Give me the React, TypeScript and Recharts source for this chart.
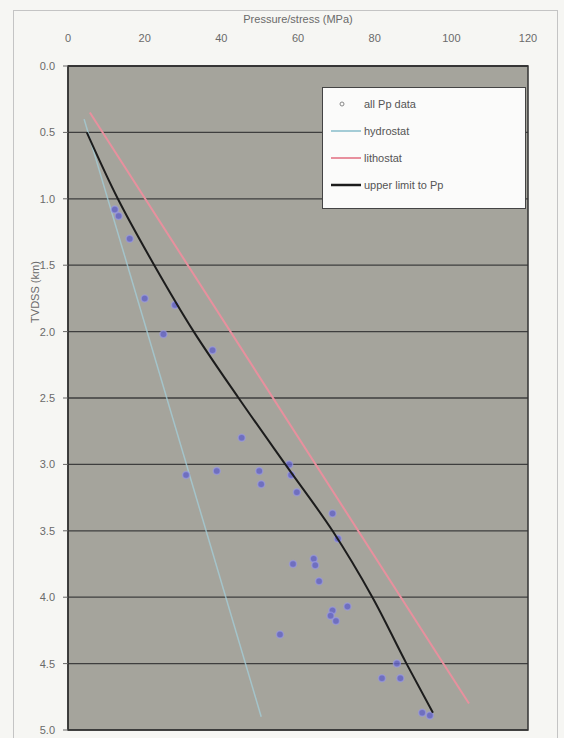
import React from 'react';
import { ComposedChart, Scatter, XAxis, YAxis, CartesianGrid, ReferenceArea } from 'recharts';

const pressureTicks = [0, 20, 40, 60, 80, 100, 120];
const depthTicks = [0, 0.5, 1, 1.5, 2, 2.5, 3, 3.5, 4, 4.5, 5];

// all Pp data: pressure (MPa) and depth (km)
const ppPressure = [12.2, 13.2, 16.1, 20.0, 27.9, 24.9, 37.7, 45.3, 30.8, 38.8, 49.9, 50.4, 57.7, 58.2, 59.7, 69.0, 70.4, 58.7, 64.1, 64.5, 65.5, 69.0, 72.9, 69.9, 68.5, 55.3, 85.8, 81.9, 86.7, 92.4, 94.4];
const ppDepth = [1.08, 1.13, 1.30, 1.75, 1.80, 2.02, 2.14, 2.80, 3.08, 3.05, 3.05, 3.15, 3.00, 3.08, 3.21, 3.37, 3.56, 3.75, 3.71, 3.76, 3.88, 4.10, 4.07, 4.18, 4.14, 4.28, 4.50, 4.61, 4.61, 4.87, 4.89];

const hydroPressure = [4.2, 50.4];
const hydroDepth = [0.4, 4.9];

const lithoPressure = [5.7, 104.6];
const lithoDepth = [0.35, 4.8];

const upperPressure = [4.9, 13.0, 22.5, 32.8, 44.5, 56.7, 69.0, 79.4, 88.3, 95.2];
const upperDepth = [0.5, 1.0, 1.5, 2.0, 2.5, 3.0, 3.5, 4.0, 4.5, 4.87];

const seriesNames = ['all Pp data', 'hydrostat', 'lithostat', 'upper limit to Pp'];
const colors = { pp: '#6262c8', hydro: '#a4ccd6', litho: '#e8909e', upper: '#1c1c1c' };

const zip = (p: number[], z: number[]) => p.map((v, i) => ({ p: v, z: z[i] }));
const ppData = zip(ppPressure, ppDepth);
const hydroData = zip(hydroPressure, hydroDepth);
const lithoData = zip(lithoPressure, lithoDepth);
const upperData = zip(upperPressure, upperDepth);

const font = '"Liberation Sans", Arial, sans-serif';
const noShape = () => <g />;

const PointShape = (props: any) => (
  <circle cx={props.cx} cy={props.cy} r={3.5} fill={colors.pp} fillOpacity={0.8} stroke="#9c9ce2" strokeWidth={1.5} strokeOpacity={0.6} />
);

export default function App() {
  return (
    <div style={{ position: 'absolute', left: 0, top: 0, width: 564, height: 738, background: '#f6f6f3', overflow: 'hidden', fontFamily: font }}>
      <div style={{ position: 'absolute', left: 13, top: 10, width: 543, height: 740, border: '1px solid #c4c4c4' }} />
      <div style={{ position: 'absolute', left: 0, top: 0 }}>
        <ComposedChart width={564} height={738} margin={{ top: 30, right: 36, bottom: 8, left: 8 }}>
          <CartesianGrid vertical={false} stroke="#3e3e3e" strokeWidth={1.3} fill="#a5a49c" fillOpacity={1} />
          <XAxis
            type="number"
            dataKey="p"
            orientation="top"
            domain={[0, 120]}
            ticks={pressureTicks}
            allowDataOverflow
            height={36}
            tickSize={0}
            tickMargin={24}
            axisLine={{ stroke: '#333', strokeWidth: 1.5 }}
            tick={{ fill: '#6a6a6a', fontSize: 11, fontFamily: font }}
            label={{ value: 'Pressure/stress (MPa)', position: 'top', offset: 7, fill: '#6a6a6a', fontSize: 11, fontFamily: font }}
          />
          <YAxis
            type="number"
            dataKey="z"
            reversed
            domain={[0, 5]}
            ticks={depthTicks}
            allowDataOverflow
            width={60}
            tickSize={5}
            tickMargin={8}
            tickFormatter={(v: number) => v.toFixed(1)}
            axisLine={{ stroke: '#333', strokeWidth: 1.5 }}
            tickLine={{ stroke: '#666' }}
            tick={{ fill: '#6a6a6a', fontSize: 11, fontFamily: font }}
            label={{
              content: () => (
                <text x={35} y={292} transform="rotate(-90, 35, 292)" textAnchor="middle" dominantBaseline="central" fill="#6a6a6a" fontSize={11} fontFamily={font}>
                  TVDSS (km)
                </text>
              ),
            }}
          />
          <ReferenceArea x1={0} x2={120} y1={0} y2={5} fill="none" stroke="#333" strokeWidth={1.5} ifOverflow="visible" />
          <Scatter name={seriesNames[1]} data={hydroData} line={{ stroke: colors.hydro, strokeWidth: 1.5, strokeOpacity: 0.8 }} lineJointType="linear" shape={noShape} isAnimationActive={false} />
          <Scatter name={seriesNames[2]} data={lithoData} line={{ stroke: colors.litho, strokeWidth: 2 }} lineJointType="linear" shape={noShape} isAnimationActive={false} />
          <Scatter name={seriesNames[0]} data={ppData} shape={PointShape} isAnimationActive={false} />
          <Scatter name={seriesNames[3]} data={upperData} line={{ stroke: colors.upper, strokeWidth: 2 }} lineJointType="monotoneY" shape={noShape} isAnimationActive={false} />
        </ComposedChart>
      </div>
      <div style={{ position: 'absolute', left: 322, top: 87, width: 204, height: 122, background: '#fbfbfa', border: '1.5px solid #444', boxSizing: 'border-box' }}>
        {seriesNames.map((name, i) => (
          <div key={name} style={{ position: 'absolute', left: 6, top: 8 + i * 27, height: 16, display: 'flex', alignItems: 'center' }}>
            <svg width={34} height={16} style={{ display: 'block' }}>
              {i === 0 ? (
                <circle cx={13} cy={8} r={2} fill="none" stroke="#888" strokeWidth={1} />
              ) : (
                <line x1={2} x2={32} y1={8} y2={8} stroke={i === 1 ? colors.hydro : i === 2 ? colors.litho : colors.upper} strokeWidth={i === 3 ? 2.5 : 2} />
              )}
            </svg>
            <span style={{ fontSize: 11, color: '#555', fontFamily: font, marginLeft: 1 }}>{name}</span>
          </div>
        ))}
      </div>
    </div>
  );
}
